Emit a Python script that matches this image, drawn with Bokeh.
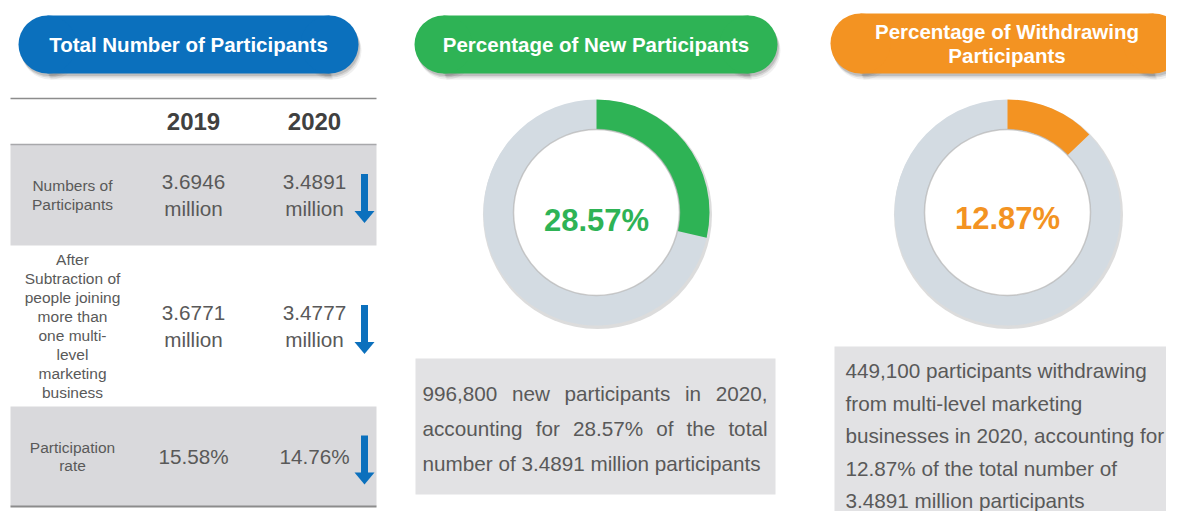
import math
from bokeh.plotting import figure
from bokeh.models import Range1d
from bokeh.embed import file_html
from bokeh.resources import INLINE
from bokeh.core.properties import value

# ---------------- data ----------------
panel_titles = ["Total Number of Participants",
                "Percentage of New Participants",
                "Percentage of Withdrawing\nParticipants"]
years = ["2019", "2020"]
row_labels = ["Numbers of\nParticipants",
              "After\nSubtraction of\npeople joining\nmore than\none multi-\nlevel\nmarketing\nbusiness",
              "Participation\nrate"]
values_2019 = ["3.6946\nmillion", "3.6771\nmillion", "15.58%"]
values_2020 = ["3.4891\nmillion", "3.4777\nmillion", "14.76%"]
row_trend = ["down", "down", "down"]
donut_pct = [28.57, 12.87]
donut_labels = ["28.57%", "12.87%"]
new_text_lines = ["996,800 new participants in 2020,",
                  "accounting for 28.57% of the total",
                  "number of 3.4891 million participants"]
withdraw_text_lines = ["449,100 participants withdrawing",
                       "from multi-level marketing",
                       "businesses in 2020, accounting for",
                       "12.87% of the total number of",
                       "3.4891 million participants"]

# ---------------- styling ----------------
FONT = value("Liberation Sans")
BLUE, GREEN, ORANGE = "#0b70bd", "#2eb355", "#f39322"
TXT = "#595959"
RING = "#d3dbe2"
BAND = "#d9d9dc"
BOX = "#e2e2e4"

W, H = 1166, 511
p = figure(width=W, height=H, x_range=Range1d(0, W), y_range=Range1d(0, H),
           output_backend="svg", toolbar_location=None, min_border=0,
           x_axis_location=None, y_axis_location=None)
p.grid.visible = False
p.outline_line_color = None
p.background_fill_color = "white"
p.border_fill_color = "white"


def Y(py):
    return H - py


def pill(x0, x1, yc, h, color, alpha=1.0):
    r = h / 2
    p.rect(x=[(x0 + x1) / 2], y=[Y(yc)], width=x1 - x0 - 2 * r, height=h,
           fill_color=color, fill_alpha=alpha, line_color=None)
    p.circle(x=[x0 + r, x1 - r], y=[Y(yc)] * 2, radius=r,
             fill_color=color, fill_alpha=alpha, line_color=None)


def titled_pill(x0, x1, yc, h, color, title):
    for d, a in [(6, 0.10), (4, 0.18), (2.5, 0.25)]:
        pill(x0 + d * 0.5, x1 + d * 0.5, yc + d, h, "#707070", a)
    pill(x0, x1, yc, h, color)
    p.text(x=[(x0 + x1) / 2], y=[Y(yc)], text=[title], text_font=FONT,
           text_font_style="bold", text_font_size="20.5px", text_color="white",
           text_align="center", text_baseline="middle", text_line_height=1.02)


titled_pill(18, 358, 44, 58, BLUE, panel_titles[0])
titled_pill(414, 777, 44, 58, GREEN, panel_titles[1])
titled_pill(830, 1183, 43, 60, ORANGE, panel_titles[2])

# ---------------- table ----------------
TX0, TX1 = 10, 376
row_bounds = [144, 245, 406, 506]
col_x = [193, 314]
label_x = 72
arrow_x = 364

for i in range(3):
    if i % 2 == 0:
        p.quad(left=[TX0], right=[TX1], top=[Y(row_bounds[i])], bottom=[Y(row_bounds[i + 1])],
               fill_color=BAND, line_color=None)
p.segment(x0=[TX0], x1=[TX1], y0=[Y(98)], y1=[Y(98)], line_color="#8c8c8c", line_width=1.5)
p.segment(x0=[TX0], x1=[TX1], y0=[Y(144)], y1=[Y(144)], line_color="#a8a8ab", line_width=1.5)
p.segment(x0=[TX0], x1=[TX1], y0=[Y(506)], y1=[Y(506)], line_color="#8c8c8c", line_width=2)

p.text(x=col_x, y=[Y(121)] * 2, text=years, text_font=FONT, text_font_style="bold",
       text_font_size="24px", text_color="#404040", text_align="center", text_baseline="middle")

row_c = [(row_bounds[i] + row_bounds[i + 1]) / 2 for i in range(3)]
p.text(x=[label_x] * 3, y=[Y(c) for c in row_c], text=row_labels, text_font=FONT,
       text_font_size="15.5px", text_color=TXT, text_align="center", text_baseline="middle",
       text_line_height=1.11)
p.text(x=[col_x[0]] * 3, y=[Y(c) for c in row_c], text=values_2019, text_font=FONT,
       text_font_size="20.7px", text_color=TXT, text_align="center", text_baseline="middle",
       text_line_height=1.15)
p.text(x=[col_x[1]] * 3, y=[Y(c) for c in row_c], text=values_2020, text_font=FONT,
       text_font_size="20.7px", text_color=TXT, text_align="center", text_baseline="middle",
       text_line_height=1.15)

# down arrows
for c, t in zip(row_c, row_trend):
    if t != "down":
        continue
    top, tip = c - 21, c + 28
    head_h, head_w, shaft_w = 12, 20, 7
    p.quad(left=[arrow_x - shaft_w / 2], right=[arrow_x + shaft_w / 2],
           top=[Y(top)], bottom=[Y(tip - head_h + 1)], fill_color=BLUE, line_color=None)
    p.patch(x=[arrow_x - head_w / 2, arrow_x + head_w / 2, arrow_x],
            y=[Y(tip - head_h), Y(tip - head_h), Y(tip)], fill_color=BLUE, line_color=None)

# ---------------- donuts ----------------
donut_cx = [596, 1007]
donut_cy = 212
R_OUT, R_IN = 113, 83
donut_colors = [GREEN, ORANGE]
text_dy = [8, 6]
for cx, pct, col, lab, dy in zip(donut_cx, donut_pct, donut_colors, donut_labels, text_dy):
    frac = pct / 100.0
    top = math.pi / 2
    end = top - 2 * math.pi * frac
    p.circle(x=[cx + 1], y=[Y(donut_cy + 2)], radius=R_OUT + 1.5, fill_color="#9a9a9a",
             fill_alpha=0.35, line_color=None)
    p.annular_wedge(x=[cx], y=[Y(donut_cy)], inner_radius=R_IN, outer_radius=R_OUT,
                    start_angle=top, end_angle=end, direction="anticlock",
                    fill_color=RING, line_color=None)
    p.annular_wedge(x=[cx], y=[Y(donut_cy)], inner_radius=R_IN, outer_radius=R_OUT,
                    start_angle=end, end_angle=top, direction="anticlock",
                    fill_color=col, line_color=None)
    p.circle(x=[cx], y=[Y(donut_cy)], radius=R_IN, fill_color="white",
             line_color="#b5b5b5", line_width=1.5, line_alpha=0.7)
    p.text(x=[cx], y=[Y(donut_cy + dy)], text=[lab], text_font=FONT, text_font_style="bold",
           text_font_size="31px", text_color=col, text_align="center", text_baseline="middle")

# ---------------- text boxes ----------------
ARIAL = {' ': 278, ',': 278, '.': 278, '%': 889, '-': 333,
         'a': 556, 'b': 556, 'c': 500, 'd': 556, 'e': 556, 'f': 278, 'g': 556, 'h': 556,
         'i': 222, 'j': 222, 'k': 500, 'l': 222, 'm': 833, 'n': 556, 'o': 556, 'p': 556,
         'q': 556, 'r': 333, 's': 500, 't': 278, 'u': 556, 'v': 500, 'w': 722, 'x': 500,
         'y': 500, 'z': 500}
DESC_SIZE = 20.7


def tw(s):
    return sum(ARIAL.get(ch, 556) for ch in s) * DESC_SIZE / 1000.0


def desc_text(xs, ys, words):
    p.text(x=xs, y=ys, text=words, text_font=FONT, text_font_size=f"{DESC_SIZE}px",
           text_color=TXT, text_align="left", text_baseline="middle")


# middle box (justified)
p.quad(left=[415], right=[775], top=[Y(358)], bottom=[Y(494)], fill_color=BOX, line_color=None)
mx0, mx1 = 422, 767
for k, line in enumerate(new_text_lines):
    yc = 393 + 35 * k
    if k < len(new_text_lines) - 1:
        words = line.split(" ")
        widths = [tw(w) for w in words]
        gap = (mx1 - mx0 - sum(widths)) / (len(words) - 1)
        xs, x = [], mx0
        for w in widths:
            xs.append(x)
            x += w + gap
        desc_text(xs, [Y(yc)] * len(words), words)
    else:
        desc_text([mx0], [Y(yc)], [line])

# right box
p.quad(left=[834], right=[1190], top=[Y(346)], bottom=[Y(530)], fill_color=BOX, line_color=None)
desc_text([845] * len(withdraw_text_lines),
          [Y(370 + 32.5 * k) for k in range(len(withdraw_text_lines))], withdraw_text_lines)

open("out.html", "w").write(file_html(p, INLINE))
